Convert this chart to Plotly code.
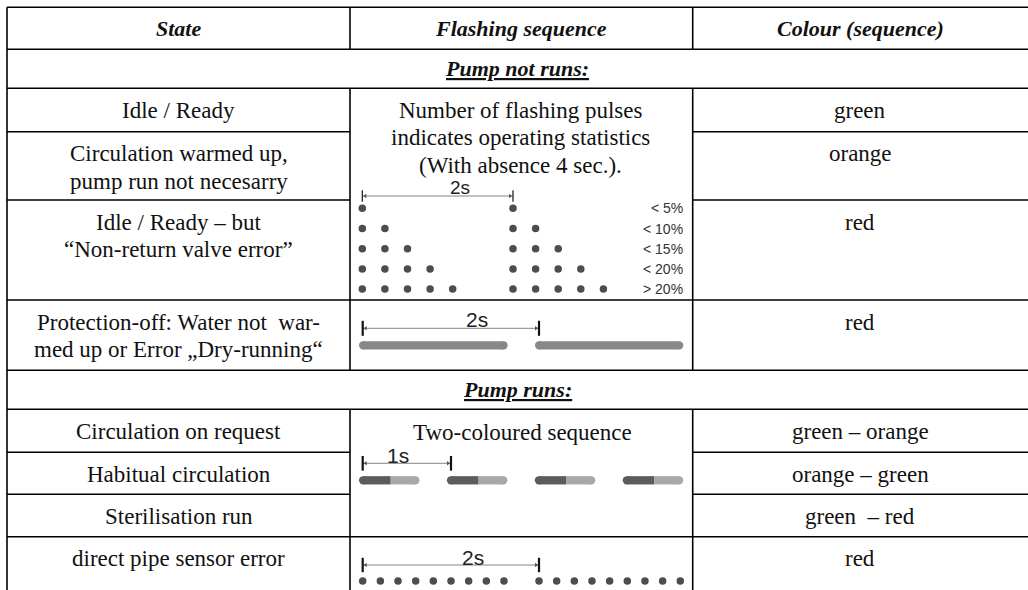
import plotly.graph_objects as go

W, H = 1028, 590

# ---------------- data ----------------
headers = ["State", "Flashing sequence", "Colour (sequence)"]
section_titles = ["Pump not runs:", "Pump runs:"]
states = [
    ["Idle / Ready"],
    ["Circulation warmed up,", "pump run not necesarry"],
    ["Idle / Ready – but", "“Non-return valve error”"],
    ["Protection-off: Water not\u00a0 war-", "med up or Error „Dry-running“"],
    ["Circulation on request"],
    ["Habitual circulation"],
    ["Sterilisation run"],
    ["direct pipe sensor error"],
]
colours = ["green", "orange", "red", "red",
           "green – orange", "orange – green", "green\u00a0 – red", "red"]
stats_text = ["Number of flashing pulses",
              "indicates operating statistics",
              "(With absence 4 sec.)."]
pulse_labels = ["< 5%", "< 10%", "< 15%", "< 20%", "> 20%"]
pulse_counts = [1, 2, 3, 4, 5]
two_colour_text = "Two-coloured sequence"
period_labels = ["2s", "2s", "1s", "2s"]
two_colour_bar_count = 4
sensor_dots_per_group = 9

# ---------------- layout geometry (pixels) ----------------
col_x = [7, 350, 692.7, 1028]
row_y = [7.3, 49.3, 88.3, 131.7, 200, 300, 370.3, 409.3, 452.3, 494.3, 536.7, 590]
state_rows = [2, 3, 4, 5, 7, 8, 9, 10]
LINE_GAP = 27.6
TEXT_OFF = 22.0

SERIF = "Liberation Serif, Times New Roman, serif"
SANS = "Liberation Sans, Arial, sans-serif"
DOT = "#4d4d4d"

fig = go.Figure()
shapes = []
ann = []


def hline(y, x0, x1, w=1.6, c="black"):
    shapes.append(dict(type="line", xref="x", yref="y", x0=x0, x1=x1, y0=y, y1=y,
                       line=dict(color=c, width=w)))


def vline(x, y0, y1, w=1.6, c="black"):
    shapes.append(dict(type="line", xref="x", yref="y", x0=x, x1=x, y0=y0, y1=y1,
                       line=dict(color=c, width=w)))


def text(x, y, s, size=23, font=SERIF, xanchor="center", color="#111"):
    ann.append(dict(x=x, y=y, xref="x", yref="y", text=s, showarrow=False,
                    xanchor=xanchor, yanchor="middle",
                    font=dict(family=font, size=size, color=color)))


# ---- grid ----
for i in [0, 1, 2, 5, 6, 7, 10]:
    hline(row_y[i], col_x[0], col_x[3])
for i in [3, 4, 8, 9]:
    hline(row_y[i], col_x[0], col_x[1])
    hline(row_y[i], col_x[2], col_x[3])
vline(col_x[0], row_y[0], row_y[-1])
for x in (col_x[1], col_x[2]):
    vline(x, row_y[0], row_y[1])
    vline(x, row_y[2], row_y[6])
    vline(x, row_y[7], row_y[-1])

# ---- headers ----
ccol = [(col_x[i] + col_x[i + 1]) / 2 for i in range(3)]
for i, h in enumerate(headers):
    text(ccol[i], (row_y[0] + row_y[1]) / 2, f"<b><i>{h}</i></b>", size=22)
for title, r in zip(section_titles, [1, 6]):
    text(W / 2 + 3, (row_y[r] + row_y[r + 1]) / 2, f"<b><i><u>{title}</u></i></b>", size=22)

# ---- state and colour columns ----
for lines, col, r in zip(states, colours, state_rows):
    for k, ln in enumerate(lines):
        text(ccol[0], row_y[r] + TEXT_OFF + k * LINE_GAP, ln)
    text(ccol[2], row_y[r] + TEXT_OFF, col)

# ---- flashing sequence: statistics ----
for k, ln in enumerate(stats_text):
    text(520, 110.7 + k * 27.2, ln)


def dim_line(x0, x1, y, th, tw, lw, label, lx, ly, lsize):
    fig.add_trace(go.Scatter(x=[x0, x1], y=[y, y], mode="lines",
                             line=dict(color="#666", width=lw), hoverinfo="skip"))
    fig.add_trace(go.Scatter(x=[x0 + 3, x1 - 3], y=[y, y], mode="markers",
                             marker=dict(symbol=["triangle-left", "triangle-right"],
                                         size=4, color="#555"), hoverinfo="skip"))
    for xx in (x0, x1):
        fig.add_trace(go.Scatter(x=[xx, xx], y=[y - th / 2, y + th / 2], mode="lines",
                                 line=dict(color="#111", width=tw), hoverinfo="skip"))
    text(lx, ly, label, size=lsize, font=SANS, color="#222")


# pulses
dim_line(362.3, 513, 196, 11.7, 1.2, 0.8, period_labels[0], 460, 187, 19)
for r, n in enumerate(pulse_counts):
    y = 208.3 + r * 20.2
    xs = [362.3 + j * 22.6 for j in range(n)] + [513 + j * 22.6 for j in range(n)]
    fig.add_trace(go.Scatter(x=xs, y=[y] * len(xs), mode="markers",
                             marker=dict(size=7.5, color=DOT), hoverinfo="skip"))
    text(685, y, pulse_labels[r], size=14, font=SANS, xanchor="right", color="#333")

# protection / dry-running
dim_line(362.7, 539, 328.3, 15, 2.2, 0.8, period_labels[1], 476.7, 319.5, 21)
BW = 8.3
for x0, x1 in [(359, 507.7), (535, 683.3)]:
    fig.add_trace(go.Scatter(x=[x0 + BW / 2, x1 - BW / 2], y=[345.3, 345.3], mode="lines+markers",
                             line=dict(color="#888", width=BW),
                             marker=dict(size=BW, color="#888"), hoverinfo="skip"))

# two-coloured sequence
text(522, 432.3, two_colour_text)
dim_line(362.7, 451, 463.3, 14.7, 2.2, 0.8, period_labels[2], 398.3, 455.5, 21)
for b in range(two_colour_bar_count):
    x0 = 359 + b * 87.9
    xm = x0 + 31.7
    x1 = x0 + 60.5
    fig.add_trace(go.Scatter(x=[x0 + BW / 2, xm], y=[480.3, 480.3], mode="lines",
                             line=dict(color="#5c5c5c", width=BW), hoverinfo="skip"))
    fig.add_trace(go.Scatter(x=[x0 + BW / 2], y=[480.3], mode="markers",
                             marker=dict(size=BW, color="#5c5c5c"), hoverinfo="skip"))
    fig.add_trace(go.Scatter(x=[xm, x1 - BW / 2], y=[480.3, 480.3], mode="lines",
                             line=dict(color="#a8a8a8", width=BW), hoverinfo="skip"))
    fig.add_trace(go.Scatter(x=[x1 - BW / 2], y=[480.3], mode="markers",
                             marker=dict(size=BW, color="#a8a8a8"), hoverinfo="skip"))

# direct pipe sensor error
dim_line(362.7, 539, 565, 14.4, 2.2, 0.8, period_labels[3], 473.3, 557, 21)
xs = [362.7 + j * 17.66 for j in range(sensor_dots_per_group)] + \
     [539 + j * 17.66 for j in range(sensor_dots_per_group)]
fig.add_trace(go.Scatter(x=xs, y=[581] * len(xs), mode="markers",
                         marker=dict(size=7.5, color=DOT), hoverinfo="skip"))

fig.update_layout(
    width=W, height=H, margin=dict(l=0, r=0, t=0, b=0),
    paper_bgcolor="white", plot_bgcolor="white", showlegend=False,
    xaxis=dict(range=[0, W], visible=False, fixedrange=True),
    yaxis=dict(range=[H, 0], visible=False, fixedrange=True),
    shapes=shapes, annotations=ann,
)

fig.write_html("out.html", config={"displayModeBar": False},
               post_script="document.body.style.margin='0';document.body.style.overflow='hidden';")
